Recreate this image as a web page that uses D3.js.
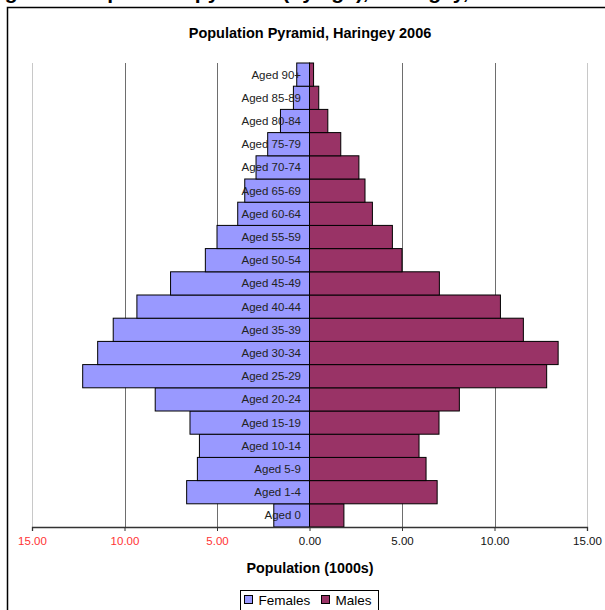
<!DOCTYPE html>
<html>
<head>
<meta charset="utf-8">
<script src="https://cdn.jsdelivr.net/npm/d3@7"></script>
<style>
  body { margin: 0; background: #fff; }
  svg { display: block; font-family: Arial, "Liberation Sans", sans-serif; }
</style>
</head>
<body>
<script>
// age bands, bottom to top
const ageGroups = ["Aged 0", "Aged 1-4", "Aged 5-9", "Aged 10-14", "Aged 15-19", "Aged 20-24",
  "Aged 25-29", "Aged 30-34", "Aged 35-39", "Aged 40-44", "Aged 45-49", "Aged 50-54",
  "Aged 55-59", "Aged 60-64", "Aged 65-69", "Aged 70-74", "Aged 75-79", "Aged 80-84",
  "Aged 85-89", "Aged 90+"];

// population in 1000s
const females = [1.93, 6.64, 6.06, 5.95, 6.46, 8.34, 12.26, 11.45, 10.61, 9.33, 7.51, 5.63,
  5.0, 3.88, 3.5, 2.89, 2.26, 1.57, 0.87, 0.69];
const males = [1.86, 6.9, 6.3, 5.92, 7.0, 8.1, 12.82, 13.44, 11.56, 10.32, 7.02, 5.0,
  4.48, 3.4, 3.0, 2.67, 1.69, 0.99, 0.5, 0.22];

const xTicks = [-15, -10, -5, 0, 5, 10, 15];

const W = 605, H = 610;
const svg = d3.select("body").append("svg")
  .attr("width", W)
  .attr("height", H);

// heading of the page, cut off at the top
svg.append("text")
  .attr("x", -14)
  .attr("y", -1)
  .attr("font-size", 21)
  .attr("font-weight", "bold")
  .text("Figure 1: Population pyramid (by age), Haringey, 2006");

// chart frame
svg.append("rect")
  .attr("x", 7.5)
  .attr("y", 7.5)
  .attr("width", 620)
  .attr("height", 620)
  .attr("fill", "#fff")
  .attr("stroke", "#000")
  .attr("stroke-width", 1.5);

const x = d3.scaleLinear().domain([-15, 15]).range([32, 587]);
const y = d3.scaleBand().domain(ageGroups.slice().reverse()).range([63, 527]).padding(0);

// title
svg.append("text")
  .attr("x", 310)
  .attr("y", 38)
  .attr("text-anchor", "middle")
  .attr("font-size", 14.5)
  .attr("font-weight", "bold")
  .text("Population Pyramid, Haringey 2006");

// gridlines
svg.append("g")
  .selectAll("line")
  .data(xTicks.filter(d => d !== 0))
  .join("line")
  .attr("x1", d => Math.round(x(d)) + 0.5)
  .attr("x2", d => Math.round(x(d)) + 0.5)
  .attr("y1", 63)
  .attr("y2", 527)
  .attr("stroke", d => Math.abs(d) === 15 ? "#c8c8c8" : "#6e6e6e")
  .attr("stroke-width", 1);

// female bars
svg.append("g")
  .selectAll("rect")
  .data(ageGroups)
  .join("rect")
  .attr("x", (d, i) => x(-females[i]))
  .attr("y", d => y(d))
  .attr("width", (d, i) => x(0) - x(-females[i]))
  .attr("height", y.bandwidth())
  .attr("fill", "#9999FF")
  .attr("stroke", "#000")
  .attr("stroke-width", 1);

// male bars
svg.append("g")
  .selectAll("rect")
  .data(ageGroups)
  .join("rect")
  .attr("x", x(0))
  .attr("y", d => y(d))
  .attr("width", (d, i) => x(males[i]) - x(0))
  .attr("height", y.bandwidth())
  .attr("fill", "#993366")
  .attr("stroke", "#000")
  .attr("stroke-width", 1);

// centre axis
svg.append("line")
  .attr("x1", x(0))
  .attr("x2", x(0))
  .attr("y1", 63)
  .attr("y2", 527)
  .attr("stroke", "#000");

// category labels
svg.append("g")
  .selectAll("text")
  .data(ageGroups)
  .join("text")
  .attr("x", 301)
  .attr("y", d => y(d) + y.bandwidth() / 2)
  .attr("dy", "0.35em")
  .attr("text-anchor", "end")
  .attr("font-size", 11.5)
  .attr("fill", "#222")
  .text(d => d);

// x axis
const xAxis = svg.append("g")
  .attr("transform", "translate(0,527)")
  .call(d3.axisBottom(x).tickValues(xTicks).tickSize(4).tickPadding(6)
    .tickFormat(d => Math.abs(d).toFixed(2)));
xAxis.select(".domain").attr("stroke", "#333").attr("stroke-width", 1.3);
xAxis.selectAll(".tick line").attr("stroke", "#333");
xAxis.selectAll(".tick text")
  .attr("font-size", 11.5)
  .attr("font-family", "Arial, 'Liberation Sans', sans-serif")
  .attr("fill", d => d < 0 ? "#ff3333" : "#111");

// axis title
svg.append("text")
  .attr("x", 310)
  .attr("y", 573)
  .attr("text-anchor", "middle")
  .attr("font-size", 14.3)
  .attr("font-weight", "bold")
  .text("Population (1000s)");

// legend
const legend = svg.append("g").attr("transform", "translate(240.5,590.5)");
legend.append("rect")
  .attr("width", 138)
  .attr("height", 30)
  .attr("fill", "#fff")
  .attr("stroke", "#000");
const items = [["Females", "#9999FF", 4], ["Males", "#993366", 81]];
items.forEach(([name, col, ox]) => {
  legend.append("rect")
    .attr("x", ox)
    .attr("y", 5)
    .attr("width", 8)
    .attr("height", 8)
    .attr("fill", col)
    .attr("stroke", "#000");
  legend.append("text")
    .attr("x", ox + 14)
    .attr("y", 14)
    .attr("font-size", 13.5)
    .text(name);
});
</script>
</body>
</html>
